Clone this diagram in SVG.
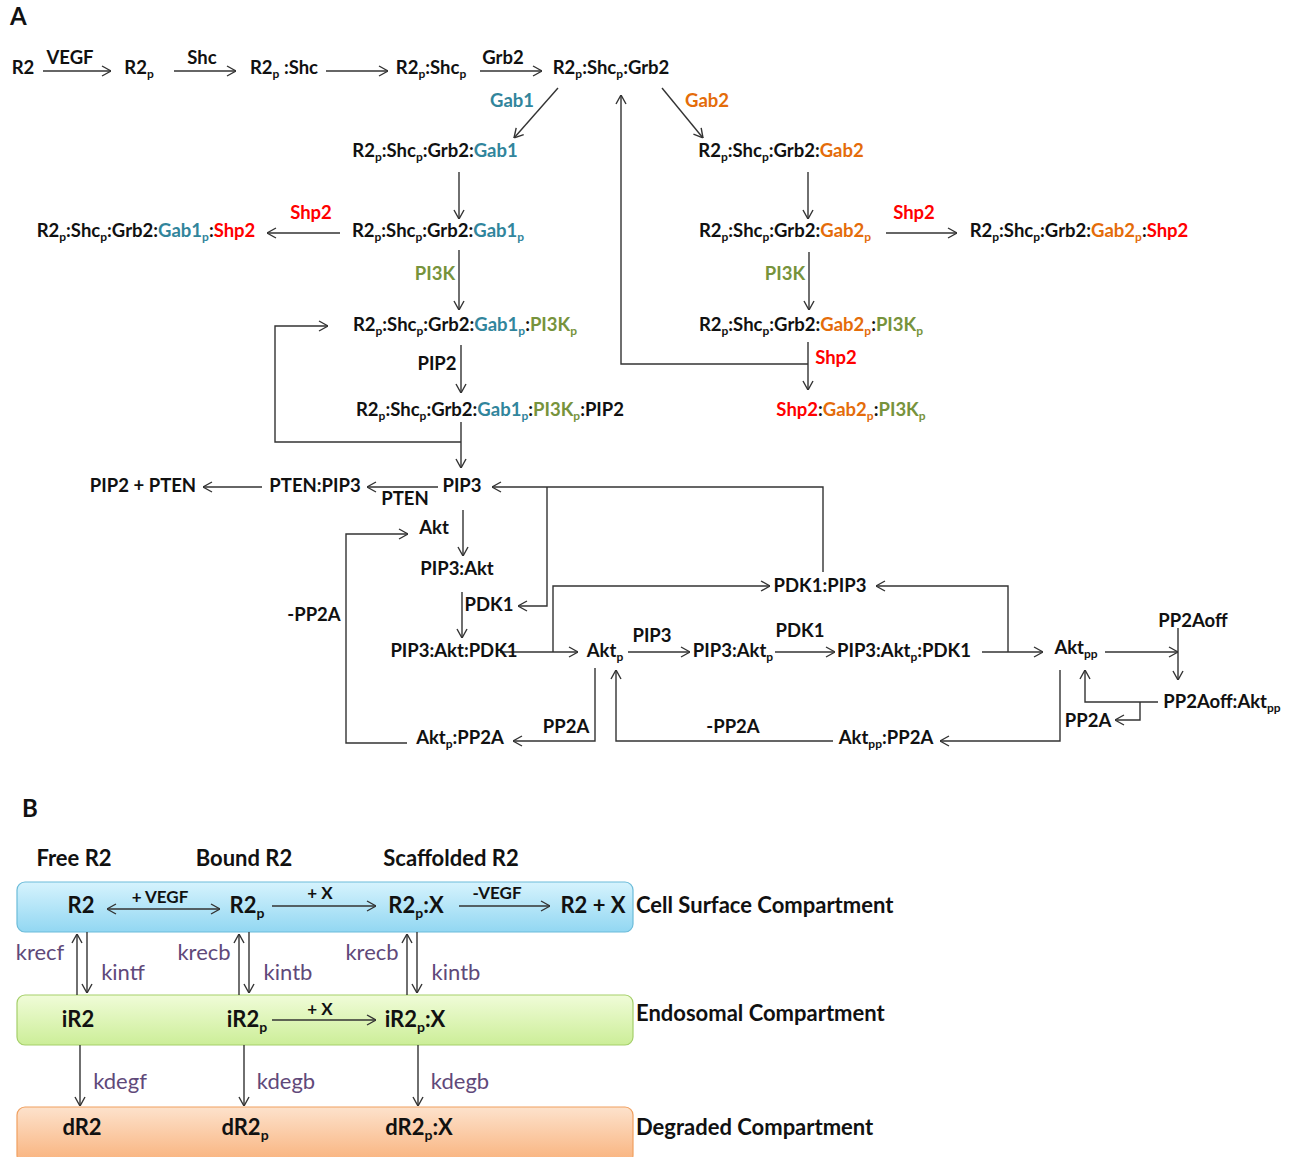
<svg xmlns="http://www.w3.org/2000/svg" width="1293" height="1157" viewBox="0 0 1293 1157">
<style>
text{font-family:Lato,"Liberation Sans",sans-serif;font-weight:bold;fill:#111;}
.a{font-size:18.5px;text-anchor:middle;}
.b{font-size:22px;text-anchor:middle;}
.bl{font-size:22px;text-anchor:start;}
.lb{font-size:17px;text-anchor:middle;}
.s{font-size:12px;baseline-shift:-4px;}
.sb{font-size:14px;baseline-shift:-5px;}
.t{fill:#31859C;}
.o{fill:#E46C0A;}
.r{fill:#FF0000;}
.g{fill:#77933C;}
.p{fill:#5F497A;font-weight:normal;}
.c path{fill:none;stroke:#333;stroke-width:1.4;}
.e{marker-end:url(#ah);}
</style>
<defs>
<marker id="ah" viewBox="0 0 10 12" refX="10" refY="6" markerWidth="10" markerHeight="12" markerUnits="userSpaceOnUse" orient="auto-start-reverse">
<path d="M1,1 L10,6 L1,11" fill="none" stroke="#333" stroke-width="1.4"/>
</marker>
<linearGradient id="gb" x1="0" y1="0" x2="0" y2="1"><stop offset="0" stop-color="#d6f3fd"/><stop offset="1" stop-color="#92d7f2"/></linearGradient>
<linearGradient id="gg" x1="0" y1="0" x2="0" y2="1"><stop offset="0" stop-color="#f0fcd8"/><stop offset="1" stop-color="#ccee98"/></linearGradient>
<linearGradient id="go" x1="0" y1="0" x2="0" y2="1"><stop offset="0" stop-color="#fde2cc"/><stop offset="1" stop-color="#f9b27c"/></linearGradient>
</defs>
<rect width="1293" height="1157" fill="#fff"/>

<text x="10" y="25" style="font-size:24px">A</text>
<text x="22" y="817" style="font-size:24px">B</text>

<!-- compartments -->
<g id="cell-surface"><rect x="17" y="882" width="616" height="50" rx="8" fill="url(#gb)" stroke="#6cbcd9" stroke-width="1.2"/><text class="bl" x="636" y="913">Cell Surface Compartment</text></g>
<g id="endosomal"><rect x="17" y="995" width="616" height="50" rx="8" fill="url(#gg)" stroke="#a5cf6a" stroke-width="1.2"/><text class="bl" x="636" y="1021">Endosomal Compartment</text></g>
<g id="degraded"><rect x="17" y="1107" width="616" height="56" rx="8" fill="url(#go)" stroke="#f0a060" stroke-width="1.2"/><text class="bl" x="636" y="1135">Degraded Compartment</text></g>

<g class="c" id="connectors">
<path class="e" d="M43,71 H111"/>
<path class="e" d="M174,71 H236"/>
<path class="e" d="M326,71 H388"/>
<path class="e" d="M480,71 H542"/>
<path class="e" d="M558,88 L514,138"/>
<path class="e" d="M662,88 L703,138"/>
<path class="e" d="M808,364 H621 V95"/>
<path class="e" d="M459,172 V219"/>
<path class="e" d="M340,233 H267"/>
<path class="e" d="M459,250 V310"/>
<path class="e" d="M461,345 V393"/>
<path class="e" d="M461,422 V468"/>
<path class="e" d="M461,442 H275 V326 H328"/>
<path class="e" d="M808,172 V219"/>
<path class="e" d="M886,233 H957"/>
<path class="e" d="M809,252 V310"/>
<path class="e" d="M808,342 V390"/>
<path class="e" d="M262,487 H203"/>
<path class="e" d="M438,487 H367"/>
<path class="e" d="M823,572 V487 H492"/>
<path class="e" d="M547,487 V606 H518"/>
<path class="e" d="M463,510 V556"/>
<path class="e" d="M462,592 V638"/>
<path class="e" d="M500,652 H578"/>
<path class="e" d="M553,652 V586 H770"/>
<path class="e" d="M1008,652 V586 H876"/>
<path class="e" d="M628,652 H690"/>
<path class="e" d="M775,652 H835"/>
<path class="e" d="M982,652 H1043"/>
<path class="e" d="M1105,652 H1178"/>
<path class="e" d="M1178,628 V680"/>
<path class="e" d="M1158,702 H1085 V670"/>
<path class="e" d="M1140,702 V720 H1115"/>
<path class="e" d="M1060,670 V741 H940"/>
<path class="e" d="M833,741 H616 V670"/>
<path class="e" d="M595,668 V741 H513"/>
<path class="e" d="M407,743 H346 V534 H408"/>
<!-- panel B -->
<path class="e" d="M107,909 H220" marker-start="url(#ah)"/>
<path class="e" d="M272,906 H376"/>
<path class="e" d="M459,906 H550"/>
<path class="e" d="M77,995 V934"/>
<path class="e" d="M87,932 V993"/>
<path class="e" d="M239,995 V934"/>
<path class="e" d="M249,932 V993"/>
<path class="e" d="M407,995 V934"/>
<path class="e" d="M417,932 V993"/>
<path class="e" d="M272,1020 H376"/>
<path class="e" d="M80,1045 V1106"/>
<path class="e" d="M244,1045 V1106"/>
<path class="e" d="M418,1045 V1106"/>
</g>

<!-- edge labels panel A -->
<g id="labels-a">
<text class="a" x="70" y="64">VEGF</text>
<text class="a" x="202" y="64">Shc</text>
<text class="a" x="503" y="64">Grb2</text>
<text class="a t" x="512" y="107">Gab1</text>
<text class="a o" x="707" y="107">Gab2</text>
<text class="a r" x="311" y="219">Shp2</text>
<text class="a g" x="435" y="280">PI3K</text>
<text class="a" x="437" y="370">PIP2</text>
<text class="a r" x="914" y="219">Shp2</text>
<text class="a g" x="785" y="280">PI3K</text>
<text class="a r" x="836" y="364">Shp2</text>
<text class="a" x="405" y="505">PTEN</text>
<text class="a" x="489" y="611">PDK1</text>
<text class="a" x="652" y="642">PIP3</text>
<text class="a" x="800" y="637">PDK1</text>
<text class="a" x="1193" y="627">PP2Aoff</text>
<text class="a" x="1088" y="727">PP2A</text>
<text class="a" x="733" y="733">-PP2A</text>
<text class="a" x="566" y="733">PP2A</text>
<text class="a" x="314" y="621">-PP2A</text>
</g>

<g id="n-R2"><text class="a" x="23" y="74">R2</text></g>
<g id="n-R2p"><text class="a" x="139" y="74">R2<tspan class="s">p</tspan></text></g>
<g id="n-R2p-Shc"><text class="a" x="284" y="74">R2<tspan class="s">p</tspan> :Shc</text></g>
<g id="n-R2p-Shcp"><text class="a" x="431" y="74">R2<tspan class="s">p</tspan>:Shc<tspan class="s">p</tspan></text></g>
<g id="n-R2p-Shcp-Grb2"><text class="a" x="611" y="74">R2<tspan class="s">p</tspan>:Shc<tspan class="s">p</tspan>:Grb2</text></g>
<g id="n-Gab1"><text class="a" x="435" y="157">R2<tspan class="s">p</tspan>:Shc<tspan class="s">p</tspan>:Grb2:<tspan class="t">Gab1</tspan></text></g>
<g id="n-Gab1p"><text class="a" x="438" y="237">R2<tspan class="s">p</tspan>:Shc<tspan class="s">p</tspan>:Grb2:<tspan class="t">Gab1</tspan><tspan class="s t">p</tspan></text></g>
<g id="n-Gab1p-Shp2"><text class="a" x="146" y="237">R2<tspan class="s">p</tspan>:Shc<tspan class="s">p</tspan>:Grb2:<tspan class="t">Gab1</tspan><tspan class="s t">p</tspan>:<tspan class="r">Shp2</tspan></text></g>
<g id="n-Gab1p-PI3Kp"><text class="a" x="465" y="331">R2<tspan class="s">p</tspan>:Shc<tspan class="s">p</tspan>:Grb2:<tspan class="t">Gab1</tspan><tspan class="s t">p</tspan>:<tspan class="g">PI3K</tspan><tspan class="s g">p</tspan></text></g>
<g id="n-Gab1p-PI3Kp-PIP2"><text class="a" x="490" y="416">R2<tspan class="s">p</tspan>:Shc<tspan class="s">p</tspan>:Grb2:<tspan class="t">Gab1</tspan><tspan class="s t">p</tspan>:<tspan class="g">PI3K</tspan><tspan class="s g">p</tspan>:PIP2</text></g>
<g id="n-Gab2"><text class="a" x="781" y="157">R2<tspan class="s">p</tspan>:Shc<tspan class="s">p</tspan>:Grb2:<tspan class="o">Gab2</tspan></text></g>
<g id="n-Gab2p"><text class="a" x="785" y="237">R2<tspan class="s">p</tspan>:Shc<tspan class="s">p</tspan>:Grb2:<tspan class="o">Gab2</tspan><tspan class="s o">p</tspan></text></g>
<g id="n-Gab2p-Shp2"><text class="a" x="1079" y="237">R2<tspan class="s">p</tspan>:Shc<tspan class="s">p</tspan>:Grb2:<tspan class="o">Gab2</tspan><tspan class="s o">p</tspan>:<tspan class="r">Shp2</tspan></text></g>
<g id="n-Gab2p-PI3Kp"><text class="a" x="811" y="331">R2<tspan class="s">p</tspan>:Shc<tspan class="s">p</tspan>:Grb2:<tspan class="o">Gab2</tspan><tspan class="s o">p</tspan>:<tspan class="g">PI3K</tspan><tspan class="s g">p</tspan></text></g>
<g id="n-Shp2-Gab2p-PI3Kp"><text class="a" x="851" y="416"><tspan class="r">Shp2</tspan>:<tspan class="o">Gab2</tspan><tspan class="s o">p</tspan>:<tspan class="g">PI3K</tspan><tspan class="s g">p</tspan></text></g>
<g id="n-PIP2-PTEN"><text class="a" x="143" y="492">PIP2 + PTEN</text></g>
<g id="n-PTEN-PIP3"><text class="a" x="315" y="492">PTEN:PIP3</text></g>
<g id="n-PIP3"><text class="a" x="462" y="492">PIP3</text></g>
<g id="n-Akt"><text class="a" x="434" y="534">Akt</text></g>
<g id="n-PIP3-Akt"><text class="a" x="457" y="575">PIP3:Akt</text></g>
<g id="n-PIP3-Akt-PDK1"><text class="a" x="454" y="657">PIP3:Akt:PDK1</text></g>
<g id="n-Aktp"><text class="a" x="605" y="657">Akt<tspan class="s">p</tspan></text></g>
<g id="n-PDK1-PIP3"><text class="a" x="820" y="592">PDK1:PIP3</text></g>
<g id="n-PIP3-Aktp"><text class="a" x="733" y="657">PIP3:Akt<tspan class="s">p</tspan></text></g>
<g id="n-PIP3-Aktp-PDK1"><text class="a" x="904" y="657">PIP3:Akt<tspan class="s">p</tspan>:PDK1</text></g>
<g id="n-Aktpp"><text class="a" x="1076" y="654">Akt<tspan class="s">pp</tspan></text></g>
<g id="n-PP2Aoff-Aktpp"><text class="a" x="1222" y="708">PP2Aoff:Akt<tspan class="s">pp</tspan></text></g>
<g id="n-Aktpp-PP2A"><text class="a" x="886" y="744">Akt<tspan class="s">pp</tspan>:PP2A</text></g>
<g id="n-Aktp-PP2A"><text class="a" x="460" y="744">Akt<tspan class="s">p</tspan>:PP2A</text></g>

<!-- panel B -->
<g id="labels-b">
<text class="b" x="74" y="866">Free R2</text>
<text class="b" x="244" y="866">Bound R2</text>
<text class="b" x="451" y="866">Scaffolded R2</text>
<text class="lb" x="160" y="903">+ VEGF</text>
<text class="lb" x="320" y="899">+ X</text>
<text class="lb" x="497" y="899">-VEGF</text>
<text class="lb" x="320" y="1015">+ X</text>
<text class="b p" x="40" y="960">krecf</text>
<text class="b p" x="123" y="980">kintf</text>
<text class="b p" x="204" y="960">krecb</text>
<text class="b p" x="288" y="980">kintb</text>
<text class="b p" x="372" y="960">krecb</text>
<text class="b p" x="456" y="980">kintb</text>
<text class="b p" x="120" y="1089">kdegf</text>
<text class="b p" x="286" y="1089">kdegb</text>
<text class="b p" x="460" y="1089">kdegb</text>
</g>
<g id="b-R2"><text class="b" x="81" y="913">R2</text></g>
<g id="b-R2p"><text class="b" x="247" y="913">R2<tspan class="sb">p</tspan></text></g>
<g id="b-R2pX"><text class="b" x="416" y="913">R2<tspan class="sb">p</tspan>:X</text></g>
<g id="b-R2X"><text class="b" x="593" y="913">R2 + X</text></g>
<g id="b-iR2"><text class="b" x="78" y="1027">iR2</text></g>
<g id="b-iR2p"><text class="b" x="247" y="1027">iR2<tspan class="sb">p</tspan></text></g>
<g id="b-iR2pX"><text class="b" x="415" y="1027">iR2<tspan class="sb">p</tspan>:X</text></g>
<g id="b-dR2"><text class="b" x="82" y="1135">dR2</text></g>
<g id="b-dR2p"><text class="b" x="245" y="1135">dR2<tspan class="sb">p</tspan></text></g>
<g id="b-dR2pX"><text class="b" x="419" y="1135">dR2<tspan class="sb">p</tspan>:X</text></g>
</svg>
